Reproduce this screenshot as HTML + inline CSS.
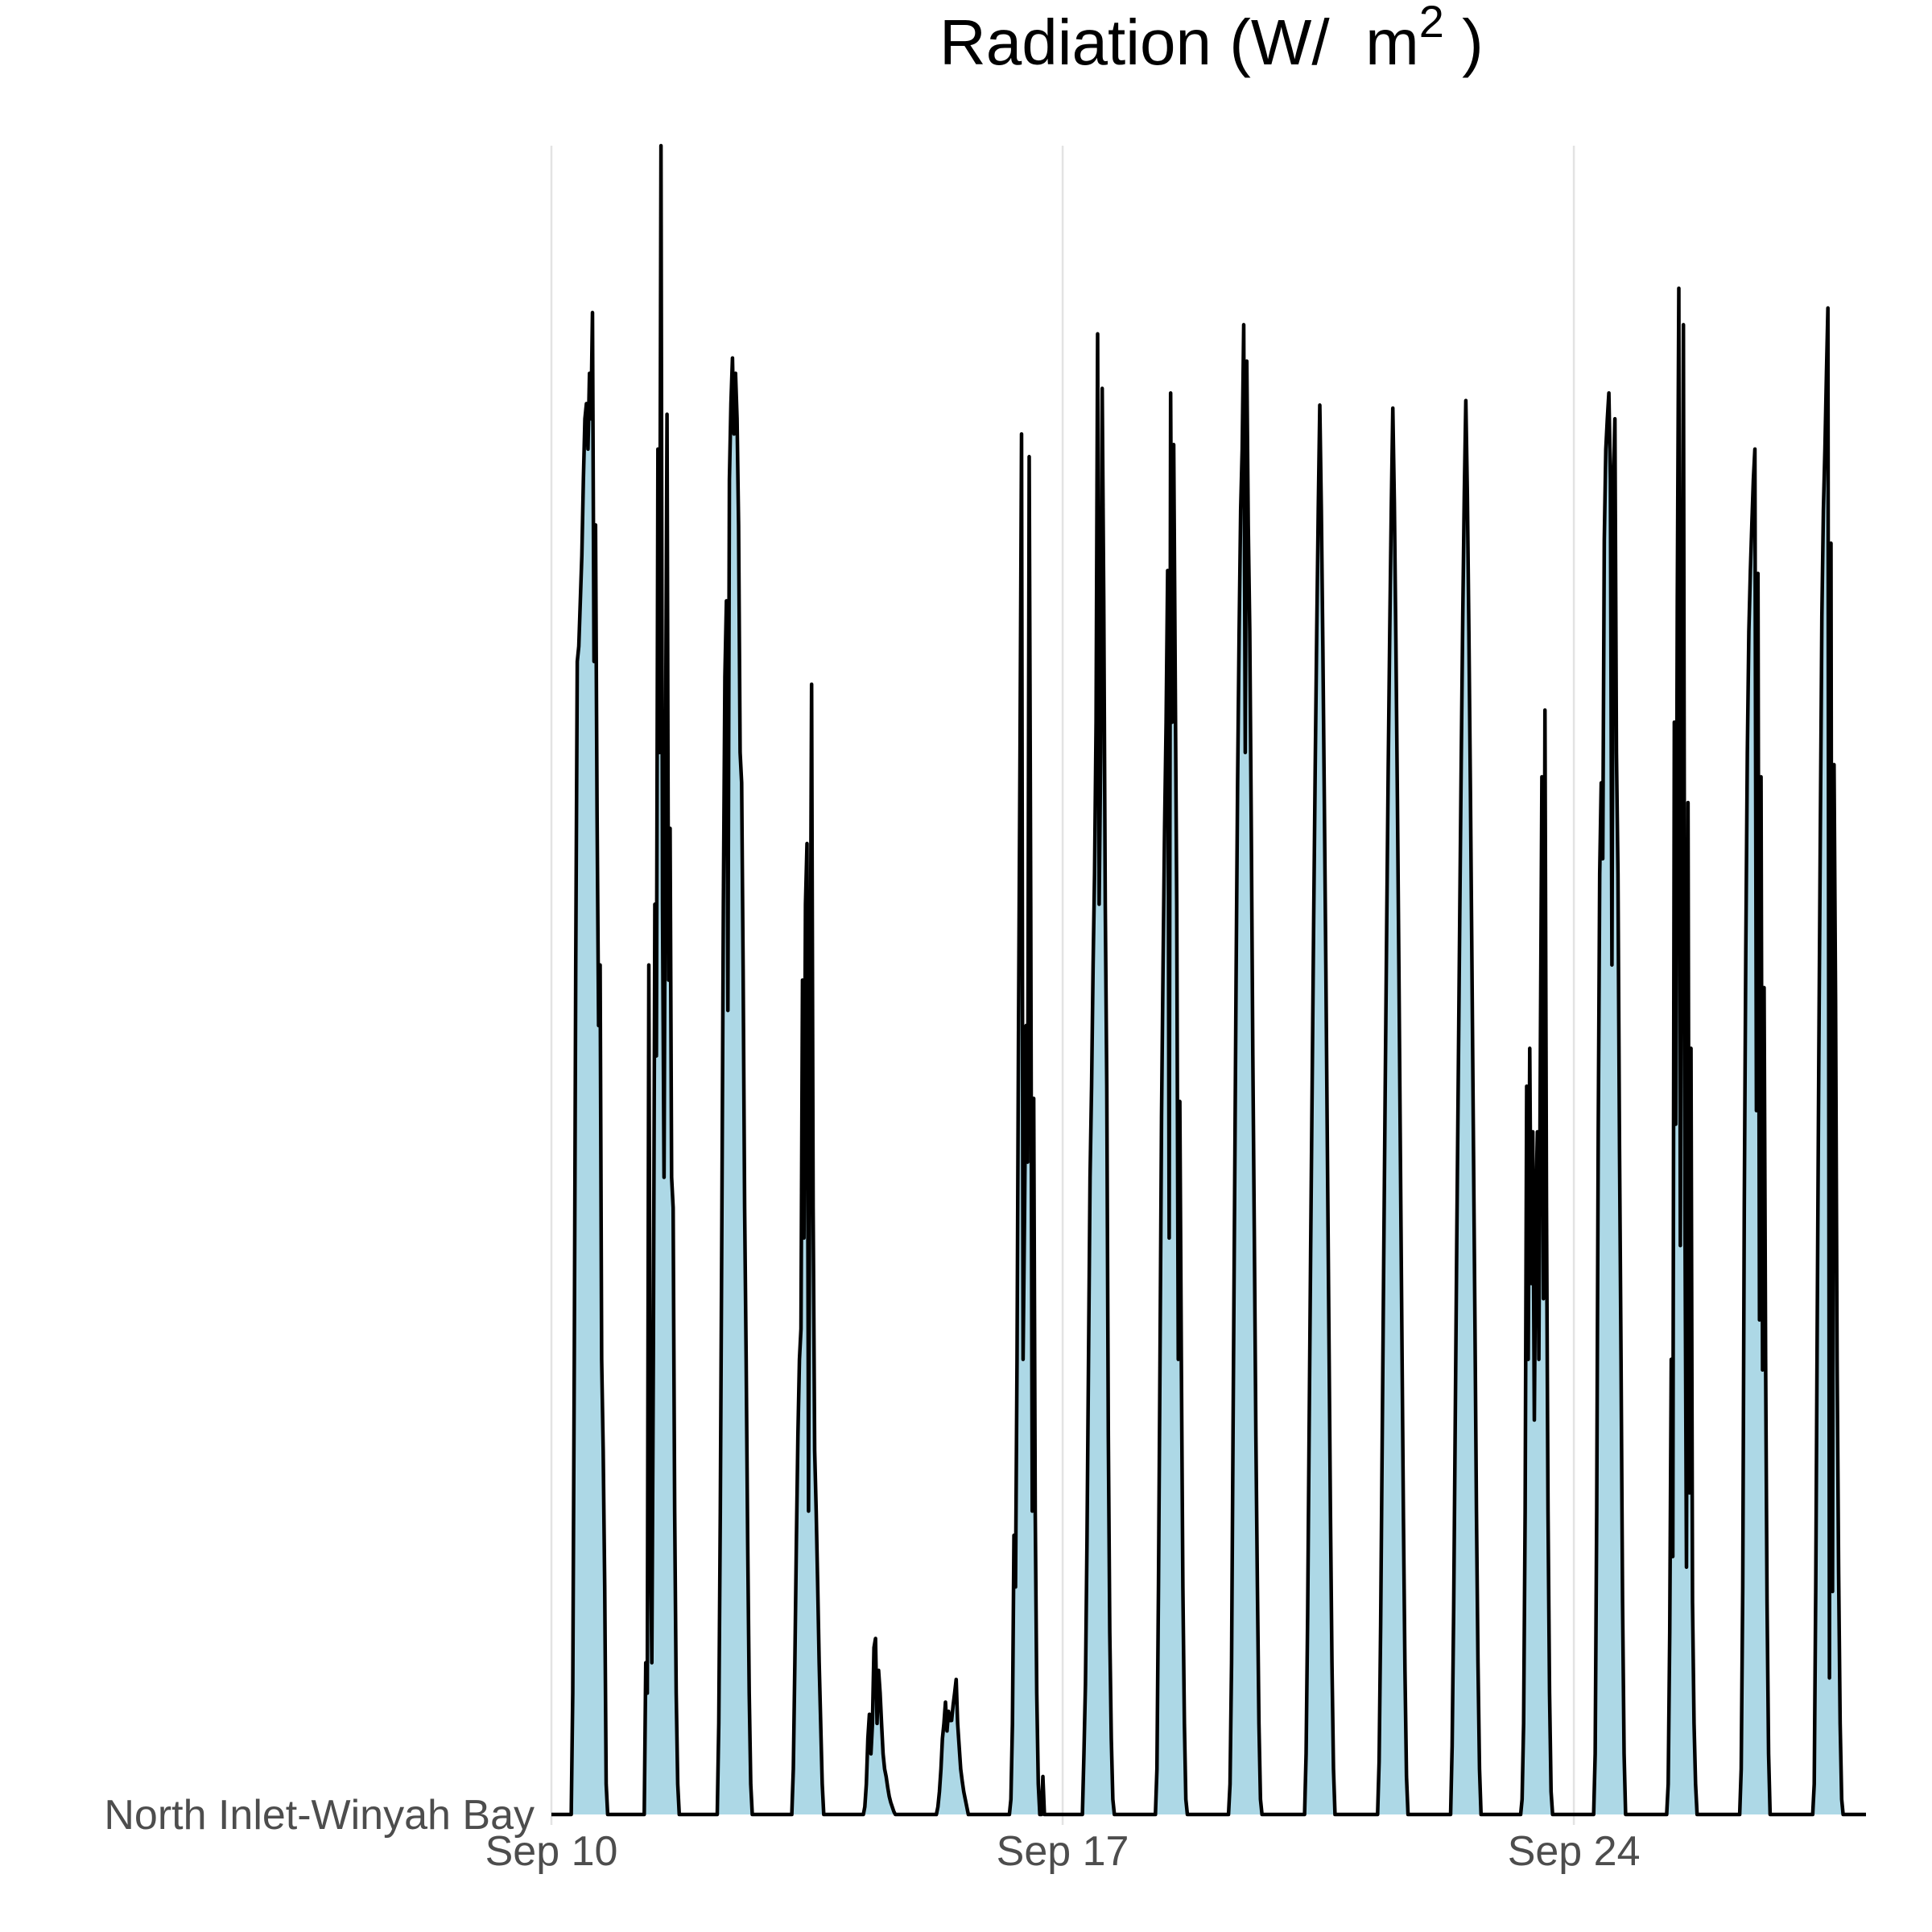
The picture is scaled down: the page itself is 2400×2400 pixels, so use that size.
<!DOCTYPE html>
<html><head><meta charset="utf-8"><style>
html,body{margin:0;padding:0;background:#fff;}
svg{display:block;}
text{font-family:"Liberation Sans",sans-serif;}
</style></head><body>
<svg id="chart" width="2400" height="2400" viewBox="0 0 2400 2400">
<text x="1167" y="80" font-size="80" fill="#000" xml:space="preserve">Radiation (W/&#160; m<tspan font-size="56" dy="-34">2</tspan><tspan dy="34"> )</tspan></text>
<g id="grid"></g>
<g id="marks"></g>
<g id="axes"></g>
</svg>
<script>
// Half-hour samples from 06:30 to 18:30 for each day Sep 10 .. Sep 27
const sampleHours = [6.5,7,7.5,8,8.5,9,9.5,10,10.5,11,11.5,12,12.5,13,13.5,14,14.5,15,15.5,16,16.5,17,17.5,18,18.5];
const dayLabels = ["Sep 10","Sep 11","Sep 12","Sep 13","Sep 14","Sep 15","Sep 16","Sep 17","Sep 18","Sep 19","Sep 20","Sep 21","Sep 22","Sep 23","Sep 24","Sep 25","Sep 26","Sep 27"];
const sep10 = [0,80,300,560,760,770,800,830,880,920,930,900,950,920,990,760,850,660,520,560,300,240,150,20,0];
const sep11 = [0,100,80,560,200,100,300,600,500,900,700,1100,600,420,700,923,550,650,420,400,200,80,20,0,0];
const sep12 = [0,60,200,390,600,750,800,530,880,930,960,910,950,920,850,700,680,560,400,300,180,80,20,0,0];
const sep13 = [0,0,30,100,180,250,300,320,550,380,600,640,200,500,745,400,240,200,150,100,60,20,0,0,0];
const sep14 = [0,5,20,50,66,40,60,110,116,60,95,80,60,40,30,25,18,12,8,5,2,0,0,0,0];
const sep15 = [0,5,15,30,50,60,74,55,68,62,62,72,80,89,60,45,30,22,15,10,5,0,0,0,0];
const sep16 = [0,10,60,184,150,300,513,700,910,300,400,520,430,895,600,200,472,200,80,20,0,0,25,0,0];
const sep17 = [0,40,86,180,300,420,480,560,620,720,976,600,700,940,800,600,480,250,120,50,10,0,0,0,0];
const sep18 = [0,30,150,300,460,560,650,720,820,380,937,720,903,750,600,300,470,300,150,60,10,0,0,0,0];
const sep19 = [0,20,100,250,400,550,680,780,860,900,982,700,958,850,780,650,500,380,250,150,60,10,0,0,0];
const sep20 = [0,0,0,40,130,250,370,480,590,690,780,860,929,860,770,670,560,440,320,200,100,30,0,0,0];
const sep21 = [0,0,0,35,125,245,365,475,585,690,780,860,927,865,775,670,555,435,315,195,95,25,0,0,0];
const sep22 = [0,0,0,45,135,255,375,485,595,695,790,870,932,870,780,675,560,440,320,200,100,30,0,0,0];
const sep23 = [0,10,60,200,480,300,505,350,450,260,400,450,300,500,684,340,728,400,200,80,15,0,0,0,0];
const sep24 = [0,40,200,450,620,680,630,840,900,920,937,880,560,880,920,700,620,440,300,140,40,0,0,0,0];
const sep25 = [0,20,120,300,170,720,455,800,1006,375,700,982,400,163,667,212,505,140,60,20,0,0,0,0,0];
const sep26 = [0,30,150,400,570,700,780,820,850,880,900,464,818,326,684,293,545,300,140,40,0,0,0,0,0];
const sep27 = [0,20,150,330,500,650,790,860,900,950,993,90,838,147,692,537,300,160,60,10,0,0,0,0,0];
const dailySeries = [sep10,sep11,sep12,sep13,sep14,sep15,sep16,sep17,sep18,sep19,sep20,sep21,sep22,sep23,sep24,sep25,sep26,sep27];
const tickDays = [0,7,14];
const tickLabels = ["Sep 10","Sep 17","Sep 24"];
const categoryLabels = ["North Inlet-Winyah Bay"];

const X0=685, X1=2318, DMAX=18, Y0=2254, Y1=181, VMAX=1100;
function xScale(days){return X0+(X1-X0)*days/DMAX;}
function yScale(v){return Y0-(Y0-Y1)*v/VMAX;}
const NS="http://www.w3.org/2000/svg";
const grid=document.getElementById('grid'), marks=document.getElementById('marks'), axes=document.getElementById('axes');

tickDays.forEach((d,i)=>{
  const l=document.createElementNS(NS,'line');
  l.setAttribute('x1',xScale(d));l.setAttribute('x2',xScale(d));
  l.setAttribute('y1',Y1);l.setAttribute('y2',2267);
  l.setAttribute('stroke','#e3e3e3');l.setAttribute('stroke-width','2.5');
  
  
  grid.appendChild(l);
  const t=document.createElementNS(NS,'text');
  t.setAttribute('x',xScale(d));t.setAttribute('y',2317);
  t.setAttribute('text-anchor','middle');t.setAttribute('font-size','52');t.setAttribute('fill','#4d4d4d');
  t.textContent=tickLabels[i];
  
  
  axes.appendChild(t);
});
const cl=document.createElementNS(NS,'text');
cl.setAttribute('x',664);cl.setAttribute('y',2272);cl.setAttribute('text-anchor','end');
cl.setAttribute('font-size','52');cl.setAttribute('fill','#4d4d4d');
cl.textContent=categoryLabels[0];


axes.appendChild(cl);

const pts=[[xScale(0),yScale(0)]];
dailySeries.forEach((arr,d)=>{
  arr.forEach((v,i)=>{pts.push([xScale(d+sampleHours[i]/24),yScale(v)]);});
});
pts.push([xScale(DMAX),yScale(0)]);
const lineD='M'+pts.map(p=>p[0].toFixed(1)+','+p[1].toFixed(1)).join('L');
const area=document.createElementNS(NS,'path');
area.setAttribute('d',lineD+'L'+xScale(DMAX)+','+Y0+'L'+xScale(0)+','+Y0+'Z');
area.setAttribute('fill','#add8e6');


marks.appendChild(area);
const line=document.createElementNS(NS,'path');
line.setAttribute('d',lineD);line.setAttribute('fill','none');
line.setAttribute('stroke','#000');line.setAttribute('stroke-width','4.5');line.setAttribute('stroke-linejoin','round');


marks.appendChild(line);
</script>
</body></html>
